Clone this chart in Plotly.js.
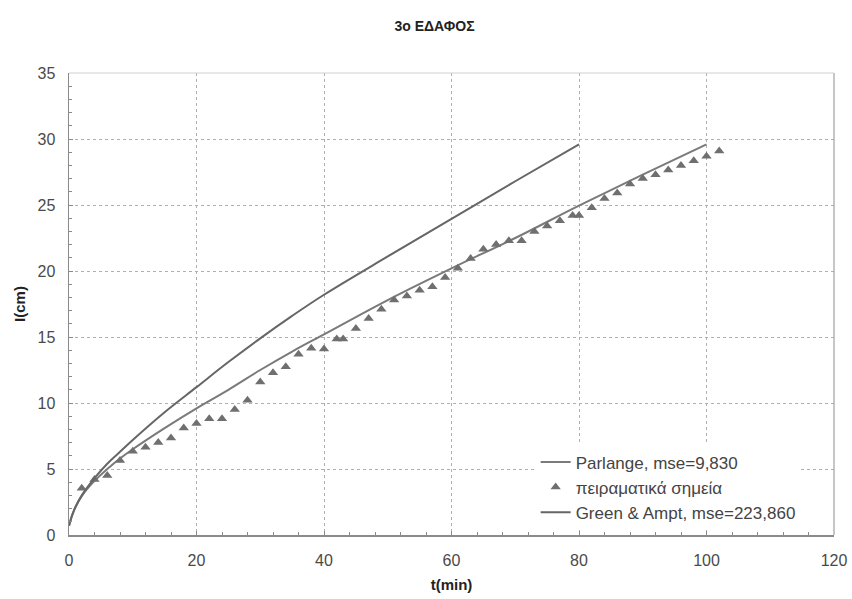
<!DOCTYPE html>
<html>
<head>
<meta charset="utf-8">
<script src="https://cdn.plot.ly/plotly-3.0.1.min.js"></script>
<style>html,body{margin:0;padding:0;background:#fff;}#chart{width:852px;height:599px;}</style>
</head>
<body>
<div id="chart"></div>
<script>
// Experimental points (t in min, I in cm)
const pointsT = [2,4,6,8,10,12,14,16,18,20,22,24,26,28,30,32,34,36,38,40,42,43,45,47,49,51,53,55,57,59,61,63,65,67,69,71,73,75,77,79,80,82,84,86,88,90,92,94,96,98,100,102];
const pointsI = [3.55,4.2,4.5,5.65,6.35,6.65,7.0,7.35,8.1,8.45,8.8,8.8,9.5,10.2,11.6,12.3,12.75,13.7,14.15,14.1,14.85,14.85,15.65,16.4,17.1,17.8,18.1,18.55,18.8,19.5,20.2,20.95,21.65,22.0,22.3,22.3,23.0,23.4,23.8,24.2,24.2,24.8,25.5,25.9,26.6,27.0,27.3,27.65,28.0,28.35,28.7,29.1];

// Parlange model curve
const parlangeT = [0,0.5,1,2,4,6,8,10,15,20,25,30,35,40,50,60,70,80,90,100];
const parlangeI = [0.7,1.5,2.1,2.95,4.1,5.0,5.8,6.5,8.1,9.6,11.0,12.5,13.9,15.2,17.8,20.2,22.5,24.95,27.3,29.6];

// Green & Ampt model curve
const gaT = [0,0.5,1,2,4,6,8,10,15,20,25,30,35,40,50,60,70,80];
const gaI = [0.7,1.5,2.1,3.0,4.3,5.4,6.3,7.2,9.3,11.2,13.1,14.9,16.6,18.2,21.1,23.95,26.8,29.6];

const labels = {
  title: '3o ΕΔΑΦΟΣ',
  x: 't(min)',
  y: 'I(cm)',
  parlange: 'Parlange, mse=9,830',
  points: 'πειραματικά σημεία',
  ga: 'Green & Ampt, mse=223,860'
};

const traces = [
  {x: parlangeT, y: parlangeI, mode: 'lines', name: labels.parlange,
   line: {color: '#7a7a7a', width: 2, shape: 'spline'}},
  {x: pointsT, y: pointsI, mode: 'markers', name: labels.points,
   marker: {symbol: 'triangle-up', size: 9, color: '#6f6f6f'}},
  {x: gaT, y: gaI, mode: 'lines', name: labels.ga,
   line: {color: '#666666', width: 2, shape: 'spline'}}
];

const axisCommon = {
  showline: true, linecolor: '#8a8a8a', linewidth: 1.5,
  showgrid: true, gridcolor: '#b0b0b0', gridwidth: 1, griddash: '3px,3px',
  zeroline: false, ticks: 'inside', ticklen: 4, tickcolor: '#8a8a8a',
  tickfont: {family: 'Liberation Sans, Arial, sans-serif', size: 16, color: '#4a4a4a'},
  fixedrange: true
};

const layout = {
  width: 852, height: 599,
  margin: {l: 69, r: 18, t: 73, b: 64},
  paper_bgcolor: '#ffffff', plot_bgcolor: '#ffffff',
  font: {family: 'Liberation Sans, Arial, sans-serif', color: '#333'},
  title: {text: '<b>' + labels.title + '</b>', x: 0.51, xref: 'container', y: 0.965, yref: 'container',
          font: {size: 14, color: '#222'}},
  xaxis: Object.assign({}, axisCommon, {
    range: [0, 120], dtick: 20, tick0: 0, ticklabelstandoff: 10,
    minor: {dtick: 4, ticks: 'inside', ticklen: 3, tickcolor: '#8a8a8a', showgrid: false},
    title: {text: '<b>' + labels.x + '</b>', font: {size: 15, color: '#222'}, standoff: 12}
  }),
  yaxis: Object.assign({}, axisCommon, {
    range: [0, 35], dtick: 5, tick0: 0, ticklabelstandoff: 9,
    minor: {dtick: 1, ticks: 'inside', ticklen: 3, tickcolor: '#8a8a8a', showgrid: false},
    title: {text: '<b>' + labels.y + '</b>', font: {size: 15, color: '#222'}, standoff: 8}
  }),
  shapes: [
    {type: 'line', xref: 'paper', yref: 'paper', x0: 1, x1: 1, y0: 0, y1: 1, line: {color: '#a0a0a0', width: 1.2}},
    {type: 'line', xref: 'paper', yref: 'paper', x0: 0, x1: 1, y0: 1, y1: 1, line: {color: '#d0d0d0', width: 1}}
  ],
  showlegend: true,
  legend: {
    x: 0.61, y: 0.01, xanchor: 'left', yanchor: 'bottom',
    bgcolor: '#ffffff', borderwidth: 0,
    font: {family: 'Liberation Sans, Arial, sans-serif', size: 17, color: '#444'},
    itemwidth: 30, tracegroupgap: 0
  }
};

Plotly.newPlot('chart', traces, layout, {displayModeBar: false, staticPlot: true});
</script>
</body>
</html>
